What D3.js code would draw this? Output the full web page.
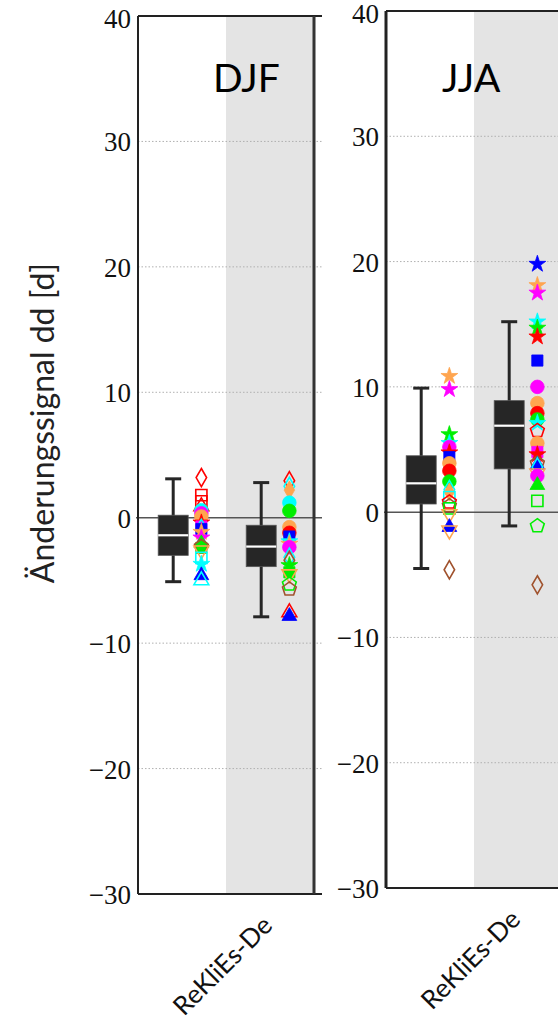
<!DOCTYPE html>
<html><head><meta charset="utf-8">
<script src="https://cdn.jsdelivr.net/npm/d3@7"></script>
<style>body{margin:0;background:#fff}</style>
</head><body><svg id="c" width="558" height="1028"></svg>
<script>
// ---------- data ----------
const seasons = ["DJF", "JJA"];
const groups = ["Referenz", "ReKliEs-De"];
const groupLabels = ["", "ReKliEs-De"];
const yTicks = [40, 30, 20, 10, 0, -10, -20, -30];
const yTitle = "Änderungssignal dd [d]";

// box stats: [whiskerLow, q1, median, q3, whiskerHigh]
const djfBoxes = [[-5.1, -3.0, -1.4, 0.2, 3.1], [-7.9, -3.9, -2.3, -0.6, 2.8]];
const jjaBoxes = [[-4.5, 0.65, 2.3, 4.5, 9.9], [-1.1, 3.45, 6.9, 8.9, 15.2]];

// model markers (shape, colour, filled)
const markerShape = ["diamond","square","triangle","circle","circle","star","square","diamond","star","star",
  "triangle","pentagon","square","star","triangle","triangle","circle","diamond","star","star",
  "square","pentagon","diamond","circle","pentagon","square","circle","square","triangledown","diamond"];
const markerColor = ["#ff0000","#ff0000","#ff0000","#00ffff","#ffa54f","#ff0000","#ff00ff","#00ffff","#ffa54f","#ff00ff",
  "#00ee00","#a0522d","#00ffff","#00ffff","#0000ff","#00ffff","#00ee00","#ffa54f","#0000ff","#00ee00",
  "#00ee00","#00ee00","#a0522d","#ff0000","#ff0000","#0000ff","#ff00ff","#00ee00","#ffa54f","#0000ff"];
const markerFilled = [0,0,0,1,1,1,1,0,1,1, 1,0,0,1,1,0,1,1,1,1, 1,0,0,1,0,1,1,0,0,1];

// points: [value, markerId]
const djfPtsA = [[3.2,0],[1.8,1],[1.3,1],[0.9,2],[0.6,3],[0.35,26],[0.1,4],[-0.4,5],[-0.7,6],[-0.85,7],
  [-0.9,25],[-1.15,8],[-1.6,9],[-2.05,10],[-2.4,20],[-2.3,11],[-2.6,28],[-3.2,12],[-3.7,13],[-4.6,14],[-5.0,15]];
const djfPtsB = [[2.95,0],[2.5,7],[2.2,17],[1.2,3],[0.55,16],[-0.75,4],[-1.2,23],[-1.5,25],[-1.9,13],[-2.1,8],
  [-2.35,26],[-3.15,7],[-3.4,22],[-3.8,19],[-4.35,20],[-4.5,28],[-5.3,21],[-5.7,11],[-7.55,2],[-7.85,14]];
const jjaPtsA = [[10.85,8],[9.8,9],[6.2,19],[5.5,13],[5.2,26],[4.75,5],[4.4,25],[3.9,4],[3.3,23],[2.45,16],
  [1.8,7],[1.6,17],[1.2,12],[0.8,24],[0.5,11],[0.3,27],[-0.15,28],[-1.2,14],[-1.45,28],[-4.6,22]];
const jjaPtsB = [[19.8,18],[18.1,8],[17.5,9],[15.2,13],[14.7,19],[14.0,5],[12.1,25],[10.0,26],[8.7,4],[7.9,23],
  [7.4,16],[7.1,13],[6.5,24],[5.5,4],[5.3,17],[4.8,6],[4.6,5],[3.9,11],[3.75,14],[3.6,7],[3.1,28],[2.9,26],
  [2.15,10],[0.9,27],[-1.1,21],[-5.8,22]];

// ---------- drawing ----------
const svg = d3.select("#c");
const pentagon = { draw(ctx, size) { const r = Math.sqrt(size / 2.378);
  for (let k = 0; k < 5; k++) { const a = -Math.PI/2 + k*2*Math.PI/5;
    const px = r*Math.cos(a), py = r*Math.sin(a); k ? ctx.lineTo(px,py) : ctx.moveTo(px,py); }
  ctx.closePath(); } };
const symType = {circle:d3.symbolCircle, square:d3.symbolSquare, diamond:d3.symbolDiamond, triangle:d3.symbolTriangle,
  triangledown:d3.symbolTriangle, star:d3.symbolStar, pentagon:pentagon};
const symSize = {circle:145, square:125, diamond:95, triangle:95, triangledown:95, star:88, pentagon:125};

const panels = [
  {name: seasons[0], boxes: djfBoxes, pts: [djfPtsA, djfPtsB], x0: 138, top: 16, bottom: 894, labelX: 131, gx2: 322, titleX: 213},
  {name: seasons[1], boxes: jjaBoxes, pts: [jjaPtsA, jjaPtsB], x0: 386, top: 11, bottom: 888, labelX: 379, gx2: 570, titleX: 442}
];

panels.forEach((p, pi) => {
  const y = d3.scaleLinear([-30, 40], [p.bottom, p.top]);
  const x = d3.scaleBand(groups, [p.x0, p.x0 + 176]);
  const bw = x.bandwidth();
  const g = svg.append("g");

  g.append("rect").attr("x", x(groups[1])).attr("y", p.top).attr("width", bw)
    .attr("height", p.bottom - p.top).attr("fill", "#e4e4e4");

  // dotted grid
  g.selectAll(".grid").data(yTicks.filter(t => t !== 0 && t !== 40 && t !== -30)).join("line")
    .attr("x1", p.x0).attr("x2", p.gx2).attr("y1", d => y(d)).attr("y2", d => y(d))
    .attr("stroke", "#b0b0b0").attr("stroke-width", 1).attr("stroke-dasharray", "1.5,2");
  // zero line
  g.append("line").attr("x1", p.x0 - 2).attr("x2", p.gx2).attr("y1", y(0)).attr("y2", y(0))
    .attr("stroke", "#555").attr("stroke-width", 1.5);

  // frame
  const right = p.x0 + 176;
  g.append("line").attr("x1", p.x0).attr("x2", pi === 0 ? p.gx2 : 570).attr("y1", p.top).attr("y2", p.top).attr("stroke", "#222").attr("stroke-width", 2);
  g.append("line").attr("x1", p.x0).attr("x2", pi === 0 ? p.gx2 : 570).attr("y1", p.bottom).attr("y2", p.bottom).attr("stroke", "#222").attr("stroke-width", 2);
  g.append("line").attr("x1", p.x0).attr("x2", p.x0).attr("y1", p.top).attr("y2", p.bottom).attr("stroke", "#222").attr("stroke-width", pi === 0 ? 2 : 3);
  if (pi === 0) g.append("line").attr("x1", right).attr("x2", right).attr("y1", p.top).attr("y2", p.bottom).attr("stroke", "#333").attr("stroke-width", 3);

  // y axis labels
  const ax = g.append("g").attr("transform", `translate(${p.labelX},0)`)
    .call(d3.axisLeft(y).tickValues(yTicks).tickSize(0).tickPadding(0)
      .tickFormat(d => d < 0 ? "\u2212" + Math.abs(d) : d));
  ax.select(".domain").remove();
  ax.selectAll("text").attr("font-family", "'Liberation Serif', 'DejaVu Serif', serif").attr("font-size", 27)
    .attr("fill", "#111").attr("dy", d => d === 40 ? "0.42em" : "0.35em");

  // boxes
  groups.forEach((gr, gi) => {
    const b = p.boxes[gi];
    const cx = x(gr) + bw * 0.4;
    const bg = g.append("g");
    bg.append("line").attr("x1", cx).attr("x2", cx).attr("y1", y(b[0])).attr("y2", y(b[4])).attr("stroke", "#262626").attr("stroke-width", 3);
    [b[0], b[4]].forEach(v => bg.append("line").attr("x1", cx - 8).attr("x2", cx + 8).attr("y1", y(v)).attr("y2", y(v))
      .attr("stroke", "#262626").attr("stroke-width", 3));
    bg.append("rect").attr("x", cx - 15).attr("width", 30).attr("y", y(b[3])).attr("height", y(b[1]) - y(b[3]))
      .attr("fill", "#262626").attr("stroke", "#555").attr("stroke-width", 0.8);
    bg.append("line").attr("x1", cx - 15).attr("x2", cx + 15).attr("y1", y(b[2])).attr("y2", y(b[2]))
      .attr("stroke", "#fff").attr("stroke-width", 2.2);

    // model points
    const px = x(gr) + bw * 0.72;
    g.append("g").selectAll("path").data(p.pts[gi]).join("path")
      .attr("transform", d => `translate(${px},${y(d[0])})` + (markerShape[d[1]] === "triangledown" ? " rotate(180)" : ""))
      .attr("d", d => d3.symbol(symType[markerShape[d[1]]], symSize[markerShape[d[1]]])())
      .attr("fill", d => markerFilled[d[1]] ? markerColor[d[1]] : "none")
      .attr("stroke", d => markerColor[d[1]])
      .attr("stroke-width", d => markerFilled[d[1]] ? 0.8 : 1.6);
  });

  // bottom category labels
  groups.forEach((gr, gi) => {
    if (!groupLabels[gi]) return;
    const tx = x(gr) + bw / 2 + 4, ty = p.bottom + 33;
    g.append("text").attr("transform", `translate(${tx},${ty}) rotate(-45)`).attr("text-anchor", "end")
      .attr("font-family", "Lato, 'Open Sans', sans-serif").attr("font-size", 26).attr("fill", "#111")
      .text(groupLabels[gi]);
  });

  // season title
  g.append("text").attr("x", p.titleX).attr("y", 92).attr("font-family", "Lato, 'Open Sans', sans-serif")
    .attr("font-size", 39).attr("fill", "#000").text(p.name);
});

// y axis title
svg.append("text").attr("transform", "translate(54,423) rotate(-90)").attr("text-anchor", "middle")
  .attr("font-family", "Lato, 'Open Sans', sans-serif").attr("font-size", 32).attr("fill", "#222").text(yTitle);
</script>
</body></html>
